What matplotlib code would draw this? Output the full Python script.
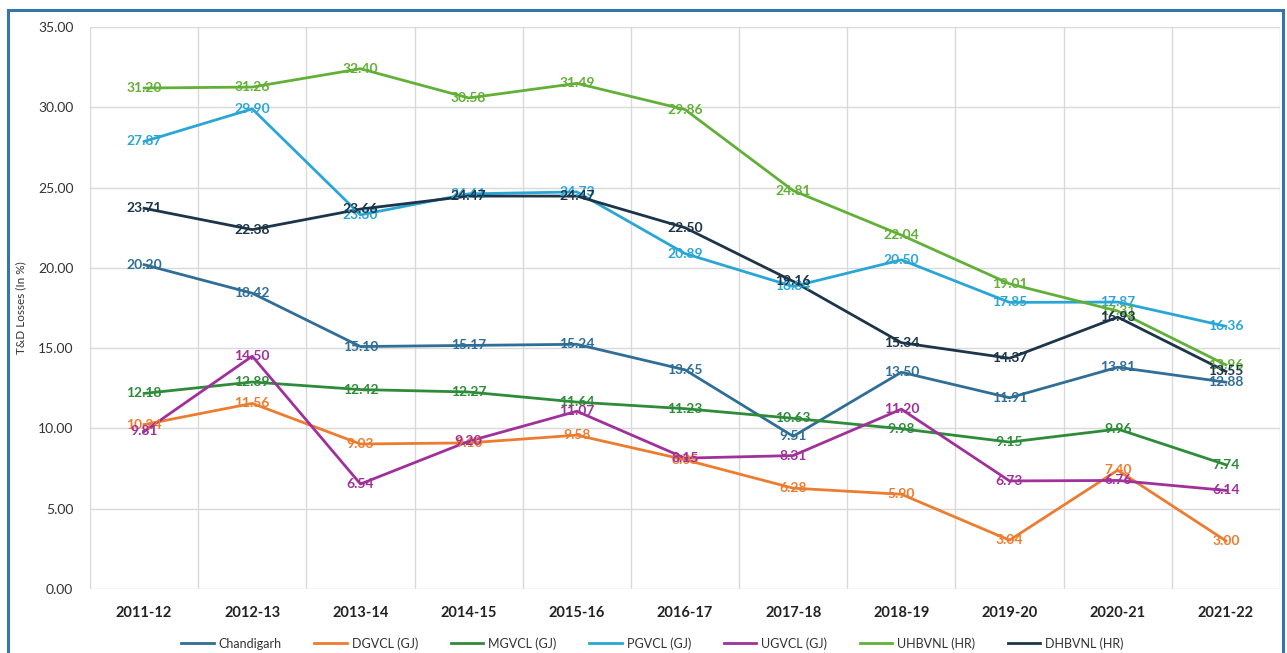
import matplotlib
matplotlib.use("Agg")
import matplotlib.pyplot as plt
from matplotlib.patches import Rectangle

years = ["2011-12", "2012-13", "2013-14", "2014-15", "2015-16", "2016-17",
         "2017-18", "2018-19", "2019-20", "2020-21", "2021-22"]

chandigarh = [20.20, 18.42, 15.10, 15.17, 15.24, 13.65, 9.51, 13.50, 11.91, 13.81, 12.88]
dgvcl = [10.24, 11.56, 9.03, 9.10, 9.58, 8.05, 6.28, 5.90, 3.04, 7.40, 3.00]
mgvcl = [12.18, 12.89, 12.42, 12.27, 11.64, 11.23, 10.63, 9.98, 9.15, 9.96, 7.74]
pgvcl = [27.87, 29.90, 23.30, 24.61, 24.73, 20.89, 18.84, 20.50, 17.85, 17.87, 16.36]
ugvcl = [9.81, 14.50, 6.54, 9.20, 11.07, 8.15, 8.31, 11.20, 6.73, 6.76, 6.14]
uhbvnl = [31.20, 31.26, 32.40, 30.58, 31.49, 29.86, 24.81, 22.04, 19.01, 17.31, 13.96]
dhbvnl = [23.71, 22.38, 23.66, 24.47, 24.47, 22.50, 19.16, 15.34, 14.37, 16.93, 13.55]

series_names = ["Chandigarh", "DGVCL (GJ)", "MGVCL (GJ)", "PGVCL (GJ)",
                "UGVCL (GJ)", "UHBVNL (HR)", "DHBVNL (HR)"]
series_values = [chandigarh, dgvcl, mgvcl, pgvcl, ugvcl, uhbvnl, dhbvnl]
colors = ["#2F6E96", "#EC7C30", "#2E8B3A", "#2AA6D6", "#A0309A", "#62B038", "#1D3549"]

y_ticks = [0, 5, 10, 15, 20, 25, 30, 35]

plt.rcParams['font.family'] = ['Lato', 'DejaVu Sans']

fig = plt.figure(figsize=(12.87, 6.53), dpi=100)
ax = fig.add_axes([90/1287, 1-589/653, (1280-90)/1287, (589-27)/653])

x = list(range(len(years)))
for name, vals, c in zip(series_names, series_values, colors):
    ax.plot(x, vals, color=c, lw=2, label=name, zorder=3)
    for xi, v in zip(x, vals):
        ax.text(xi, v, f"{v:.2f}", color=c, fontsize=10, fontweight='bold',
                ha='center', va='center', zorder=4)

ax.set_xlim(-0.5, len(years) - 0.5)
ax.set_ylim(0, 35)
ax.set_yticks(y_ticks)
ax.set_yticklabels([f"{t:.2f}" for t in y_ticks], fontsize=10, color="#333333")
ax.set_xticks(x)
ax.set_xticklabels(years, fontsize=10.5, fontweight='bold', color="#222222")
ax.set_xticks([i - 0.5 for i in range(len(years) + 1)], minor=True)
ax.grid(True, which='minor', axis='x', color="#D9D9D9", lw=1)
ax.grid(True, which='major', axis='y', color="#D9D9D9", lw=1)
ax.tick_params(axis='both', which='both', length=0)
ax.tick_params(axis='x', pad=12)
ax.tick_params(axis='y', pad=12)
for s in ax.spines.values():
    s.set_visible(False)
ax.set_ylabel("T&D Losses (In %)", fontsize=8.5, color="#333333", labelpad=8)

leg = fig.legend(loc='lower center', bbox_to_anchor=(0.507, -0.012), ncol=7,
                 frameon=False, fontsize=9, handlelength=2.6, handletextpad=0.4,
                 columnspacing=2.6)
for t in leg.get_texts():
    t.set_color("#333333")

fig.patches.append(Rectangle((8/1287, -0.1), (1283-8)/1287, 1.1 - 10/653,
                             transform=fig.transFigure, fill=False,
                             edgecolor="#3576A8", lw=2.2))

fig.savefig("out.png", dpi=100)
